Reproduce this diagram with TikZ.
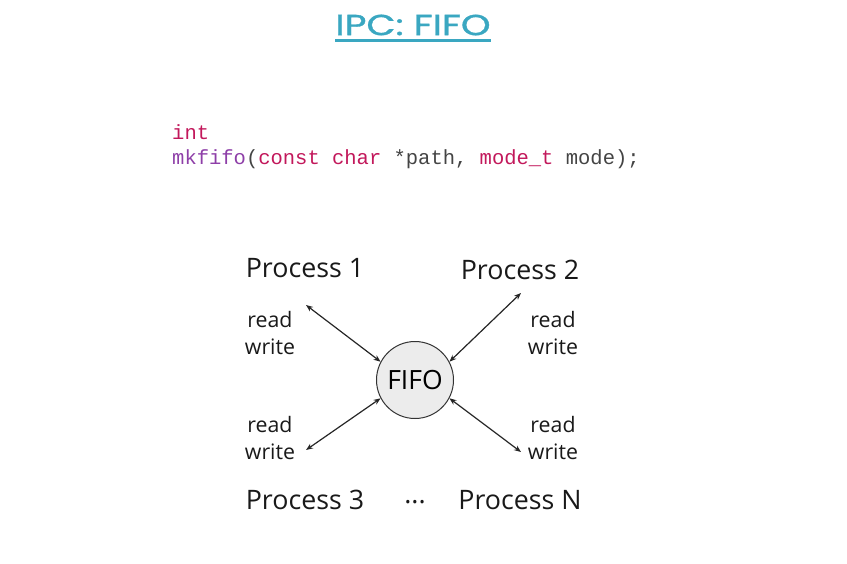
\documentclass[tikz,border=0pt]{standalone}
\usepackage{fontspec}
\setmainfont{Open Sans}
\newfontfamily\titlefont[FakeStretch=1.3, FakeBold=1.2]{Poppins}
\setmonofont{Liberation Mono}
\usepackage{xcolor}
\usetikzlibrary{positioning, arrows.meta}

\definecolor{titleblue}{HTML}{3AA7C1}
\definecolor{kwred}{HTML}{C2185B}
\definecolor{fnpurple}{HTML}{8E3FA8}
\definecolor{codegray}{HTML}{444444}
\definecolor{fifofill}{HTML}{ECECEC}

\begin{document}
\begin{tikzpicture}[
    x=1pt, y=-1pt,
    >={Stealth[length=7pt, width=5.5pt]},
    titlestyle/.style={font=\titlefont\fontsize{29}{34}\selectfont, text=titleblue, inner sep=0pt},
    codestyle/.style={font=\ttfamily\fontsize{20.5}{25}\selectfont, text=codegray,
        align=left, anchor=base west, inner sep=0pt},
    procbox/.style={font=\fontsize{26.8}{30}\selectfont, text=black!90, inner sep=0pt},
    rwlabel/.style={font=\fontsize{21.3}{27.5}\selectfont, text=black!90, align=center, inner sep=0pt},
    fifonode/.style={circle, draw=black!80, fill=fifofill, line width=1pt,
        minimum size=77pt, inner sep=0pt, font=\fontsize{26.5}{28}\selectfont},
    arrstyle/.style={<->, line width=1.2pt, black!85},
]
\useasboundingbox (0,0) rectangle (847,563);

% ---- Title ----
\node[titlestyle] (title) at (413,25) {IPC: FIFO};
\draw[titleblue, line width=2.5pt] ([yshift=-5pt]title.south west) -- ([yshift=-5pt]title.south east);

% ---- Prototype ----
\node[codestyle] (proto) at (172,164)
    {\textcolor{kwred}{int}\\
     \textcolor{fnpurple}{mkfifo}(\textcolor{kwred}{const char} *path, \textcolor{kwred}{mode\_t} mode);};

% ---- FIFO ----
\node[fifonode] (fifo) at (415,380) {FIFO};

% ---- Processes ----
\node[procbox] (p1) at (305,268) {Process 1};
\node[procbox] (p2) at (520,270) {Process 2};
\node[procbox] (p3) at (305,500) {Process 3};
\node[procbox] (dots) at (415,502) {...};
\node[procbox] (pn) at (520,500) {Process N};

% ---- read / write labels ----
\node[rwlabel] (rw1) at (270,333) {read\\write};
\node[rwlabel] (rw2) at (553,333) {read\\write};
\node[rwlabel] (rw3) at (270,438) {read\\write};
\node[rwlabel] (rwn) at (553,438) {read\\write};

% ---- Arrows ----
\coordinate (e1) at (306,305);
\coordinate (e2) at (521,293);
\coordinate (e3) at (306,450);
\coordinate (en) at (521,452);

\draw[arrstyle] (e1) -- (fifo.152);
\draw[arrstyle] (e2) -- (fifo.28);
\draw[arrstyle] (e3) -- (fifo.208);
\draw[arrstyle] (en) -- (fifo.332);

\end{tikzpicture}
\end{document}
